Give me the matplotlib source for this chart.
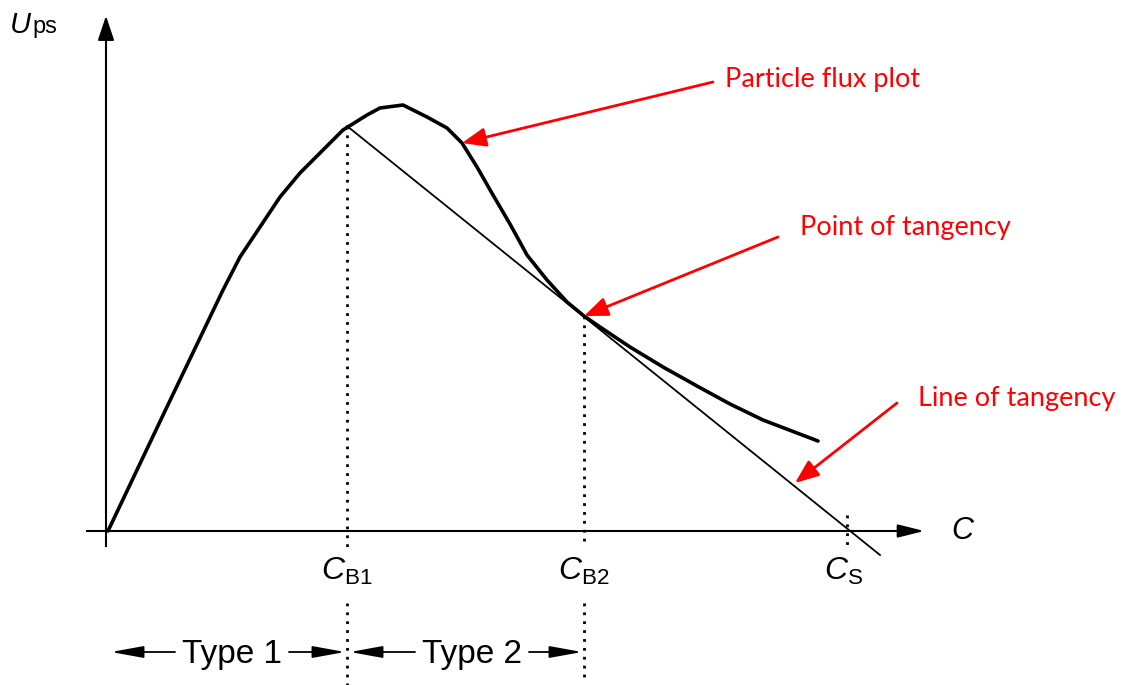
import matplotlib
matplotlib.use("Agg")
import matplotlib.pyplot as plt

# settling flux curve (concentration C vs. particle flux Ups)
conc = [0.00, 0.57, 1.15, 1.32, 1.52, 1.72, 1.92, 2.12, 2.35, 2.59, 2.72,
        2.95, 3.19, 3.39, 3.54, 3.69, 3.85, 4.02, 4.19, 4.39, 4.59, 4.76,
        4.92, 5.22, 5.55, 5.89, 6.22, 6.55, 6.89, 7.10]
flux = [0.00, 1.20, 2.41, 2.74, 3.04, 3.34, 3.58, 3.78, 4.01, 4.16, 4.23,
        4.26, 4.14, 4.03, 3.88, 3.64, 3.36, 3.07, 2.76, 2.51, 2.29, 2.15,
        2.04, 1.84, 1.64, 1.45, 1.27, 1.11, 0.98, 0.90]

# critical concentrations
c_b1 = 2.39
c_b2 = 4.76
c_s = 7.39
flux_b1 = 4.05
flux_b2 = 2.15
tangent_end = (7.72, -0.24)

crit_labels = [r"$C_{\mathrm{B1}}$", r"$C_{\mathrm{B2}}$", r"$C_{\mathrm{S}}$"]
type_labels = ["Type 1", "Type 2"]

plt.rcParams["mathtext.fontset"] = "custom"
plt.rcParams["mathtext.rm"] = "Liberation Sans"
plt.rcParams["mathtext.it"] = "Liberation Sans:italic"
plt.rcParams["font.family"] = "Liberation Sans"

fig = plt.figure(figsize=(11.23, 6.85), dpi=100)
ax = fig.add_axes([0, 0, 1, 1])
ax.set_xlim(-1.08, 10.15)
ax.set_ylim(-1.54, 5.31)
ax.axis("off")

# axes with arrow heads
ax.plot([-0.21, 8.0], [0, 0], color="k", lw=1.5)
ax.annotate("", xy=(8.19, 0), xytext=(7.9, 0),
            arrowprops=dict(arrowstyle="-|>,head_length=0.8,head_width=0.2",
                            mutation_scale=20, color="k", lw=1.5))
ax.plot([-0.02, -0.02], [-0.15, 5.0], color="k", lw=1.5)
ax.annotate("", xy=(-0.02, 5.18), xytext=(-0.02, 4.9),
            arrowprops=dict(arrowstyle="-|>,head_length=0.75,head_width=0.25",
                            mutation_scale=20, color="k", lw=1.5))

# flux curve and its tangent
ax.plot(conc, flux, color="k", lw=2.6, solid_joinstyle="round", solid_capstyle="round")
ax.plot([c_b1, tangent_end[0]], [flux_b1, tangent_end[1]], color="k", lw=1.3)

# dotted guides
dot = dict(color="k", lw=2.0, linestyle=(0, (1, 2.2)))
ax.plot([c_b1, c_b1], [flux_b1, -0.16], **dot)
ax.plot([c_b1, c_b1], [-0.72, -1.54], **dot)
ax.plot([c_b2, c_b2], [flux_b2, -0.16], **dot)
ax.plot([c_b2, c_b2], [-0.72, -1.50], **dot)
ax.plot([c_s, c_s], [0.16, -0.17], **dot)

# concentration labels
for c, lab in zip([c_b1, c_b2, c_s - 0.03], crit_labels):
    ax.text(c, -0.25, lab, ha="center", va="top", fontsize=23)

ax.text(8.55, 0.0, r"$C$", ha="center", va="center", fontsize=22)
fig.text(0.009, 1 - 33 / 685, "U", fontsize=21, style="italic", ha="left", va="baseline")
fig.text(0.0285, 1 - 33 / 685, "ps", fontsize=17, ha="left", va="baseline")

# settling type ranges
type_y = -1.24
bounds = [(0.0, c_b1), (c_b1, c_b2)]
centers = [1.24, 3.64]
for (lo, hi), cx, lab in zip(bounds, centers, type_labels):
    ax.text(cx, type_y, lab, ha="center", va="center", fontsize=24)
    head = dict(arrowstyle="-|>,head_length=1.1,head_width=0.2",
                mutation_scale=18, color="k", lw=1.3, shrinkA=0, shrinkB=0)
    ax.annotate("", xy=(lo + 0.03, type_y + 0.03), xytext=(cx - 0.57, type_y + 0.03),
                arrowprops=head)
    ax.annotate("", xy=(hi - 0.02, type_y + 0.03), xytext=(cx + 0.57, type_y + 0.03),
                arrowprops=head)

# red callouts
red = "#ff0000"
callouts = [
    ("Particle flux plot", (6.17, 4.44), (6.05, 4.49), (3.54, 3.88)),
    ("Point of tangency", (6.92, 2.96), (6.70, 2.94), (c_b2, flux_b2)),
    ("Line of tangency", (8.10, 1.25), (7.89, 1.28), (6.87, 0.48)),
]
for txt, pos, tail, tip in callouts:
    ax.text(pos[0], pos[1], txt, color=red, fontsize=19.5, family="Lato",
            ha="left", va="baseline")
    ax.annotate("", xy=tip, xytext=tail,
                arrowprops=dict(arrowstyle="-|>,head_length=0.8,head_width=0.32",
                                mutation_scale=18, color=red, lw=2.0,
                                shrinkA=0, shrinkB=0))

fig.savefig("out.png", dpi=100)
